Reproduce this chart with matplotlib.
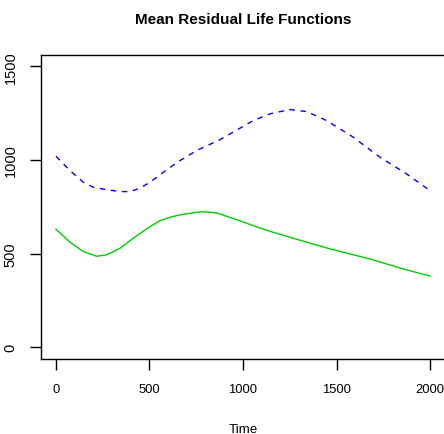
import matplotlib
matplotlib.use("Agg")
import matplotlib.pyplot as plt

plt.rcParams['font.family'] = ['Liberation Sans', 'DejaVu Sans']

# Green (solid) mean residual life curve
t_green = [0, 75, 146, 217, 270, 342, 413, 485, 556, 610, 659, 699, 779, 859,
           966, 1055, 1144, 1269, 1465, 1679, 1857, 2000]
v_green = [630, 561, 511, 486, 493, 528, 582, 632, 676, 694, 706, 712, 724, 717,
           681, 649, 619, 582, 525, 471, 418, 380]

# Blue (dashed) mean residual life curve
t_blue = [0, 75, 146, 200, 270, 342, 396, 449, 503, 574, 654, 752, 877, 1055,
          1144, 1251, 1340, 1447, 1590, 1733, 1875, 2000]
v_blue = [1020, 943, 881, 854, 841, 831, 831, 849, 881, 934, 991, 1050, 1108, 1210,
          1246, 1269, 1258, 1210, 1121, 1014, 925, 836]

x_ticks = [0, 500, 1000, 1500, 2000]
y_ticks = [0, 500, 1000, 1500]

fig = plt.figure(figsize=(4.44, 4.35), dpi=100)
ax = fig.add_axes([41/444, 75.5/435, 404/444, 303.5/435])

ax.plot(t_blue, v_blue, color='#0000FF', lw=1.0, linestyle=(0, (4, 4)))
ax.plot(t_green, v_green, color='#00CD00', lw=1.0)

ax.set_xlim(-80, 2080)
ax.set_ylim(-60, 1560)
ax.set_xticks(x_ticks)
ax.set_yticks(y_ticks)
ax.set_xticklabels([str(v) for v in x_ticks], fontsize=9.4)
ax.set_yticklabels([str(v) for v in y_ticks], fontsize=10.5, rotation=90, va='center')
ax.tick_params(direction='out', length=8, width=1)
ax.tick_params(axis='x', pad=10)
ax.tick_params(axis='y', pad=9)
for s in ax.spines.values():
    s.set_linewidth(1)
ax.set_xlabel('Time', fontsize=9.6, labelpad=20)
ax.set_title('Mean Residual Life Functions', fontsize=11,
             fontweight='bold', pad=23)

fig.savefig('out.png', dpi=100)
